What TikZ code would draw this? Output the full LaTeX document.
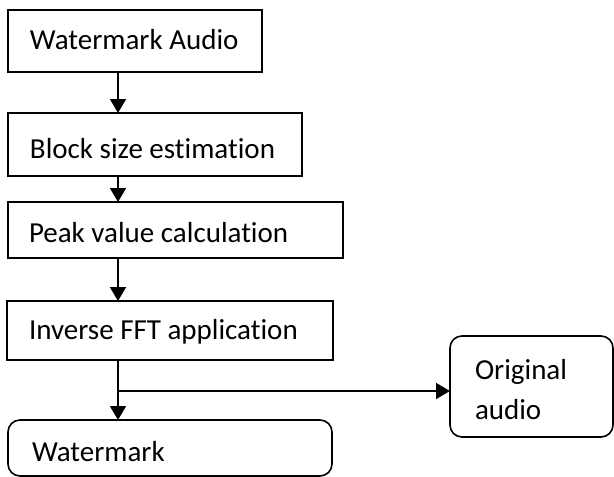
\documentclass[tikz,border=0pt]{standalone}
\usepackage{fontspec}
\setmainfont{Carlito}[Ligatures=NoCommon]
\usetikzlibrary{arrows.meta}
\tikzset{
  box/.style={draw=black, line width=1.6pt, inner sep=0pt, outer sep=0pt},
  rbox/.style={box, rounded corners=12pt},
  txt/.style={inner sep=0pt, outer sep=0pt, anchor=base west, font=\fontsize{29}{35}\selectfont},
  conn/.style={draw=black, line width=1.8pt},
  arr/.style={conn, -{Triangle[width=16pt,length=14pt]}},
}
\begin{document}
\begin{tikzpicture}[x=1pt,y=-1pt]
\useasboundingbox (0,0) rectangle (614,477);
\node[box, minimum width=254pt, minimum height=62pt] (b1) at (135,41) {};
\node[box, minimum width=294pt, minimum height=63pt] (b2) at (155,144.5) {};
\node[box, minimum width=335pt, minimum height=56pt] (b3) at (175.5,230) {};
\node[box, minimum width=326pt, minimum height=59pt] (b4) at (170,330.5) {};
\node[rbox, minimum width=324pt, minimum height=56pt] (b5) at (170,448) {};
\node[rbox, minimum width=163pt, minimum height=101pt] (orig) at (531.5,386.5) {};
\node[txt] (t1) at (30,49) {Watermark Audio};
\node[txt] (t2) at (30,158) {Block size estimation};
\node[txt] (t3) at (29,242) {Peak value calculation};
\node[txt] (t4) at (29,339) {Inverse FFT application};
\node[txt] (t5) at (32,461) {Watermark};
\node[txt] (t6) at (475,379) {Original};
\node[txt] (t7) at (475,419) {audio};
\coordinate (ax) at (118,0);
\coordinate (br) at (118,391);
\draw[arr] (b1.south -| ax) -- (b2.north -| ax);
\draw[arr] (b2.south -| ax) -- (b3.north -| ax);
\draw[arr] (b3.south -| ax) -- (b4.north -| ax);
\draw[arr] (b4.south -| ax) -- (b5.north -| ax);
\draw[arr] (br) -- (orig.west |- br);
\end{tikzpicture}
\end{document}
